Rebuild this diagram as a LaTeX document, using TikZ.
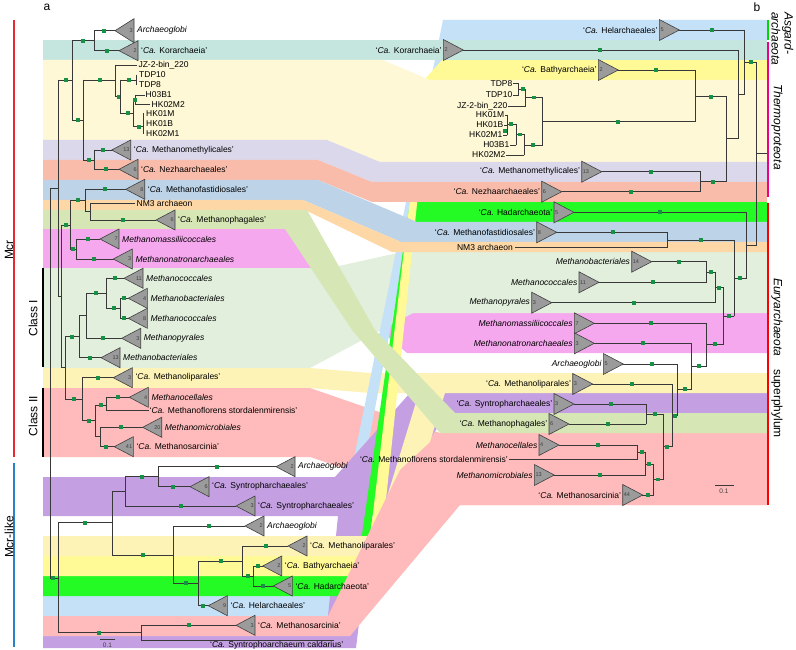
\documentclass[tikz,border=0pt]{standalone}
\usepackage{fontspec}
\setmainfont{Liberation Sans}
\definecolor{cTeal}{RGB}{197,230,222}
\definecolor{cTDP}{RGB}{254,248,214}
\definecolor{cLav}{RGB}{220,216,236}
\definecolor{cSalm}{RGB}{250,188,170}
\definecolor{cBlueG}{RGB}{188,211,232}
\definecolor{cPeach}{RGB}{253,216,166}
\definecolor{cPGreen}{RGB}{214,230,180}
\definecolor{cPink}{RGB}{246,168,238}
\definecolor{cLGreen}{RGB}{226,239,221}
\definecolor{cYel}{RGB}{254,243,182}
\definecolor{cRose}{RGB}{255,187,187}
\definecolor{cPurple}{RGB}{196,160,226}
\definecolor{cBYel}{RGB}{255,250,150}
\definecolor{cGreen}{RGB}{36,250,36}
\definecolor{cLBlue}{RGB}{197,225,248}
\definecolor{cSq}{RGB}{22,145,70}
\definecolor{cTri}{RGB}{155,155,155}
\definecolor{cRedL}{RGB}{232,40,50}
\definecolor{cBlueL}{RGB}{40,130,200}
\newcounter{nn}
\newcommand\CaI{\textit{Ca.}}
\newcommand\Hs[4]{\draw[br] (#1,#3) -- (#2,#3); \fill[cSq] (#4-1.9,#3-1.9) rectangle (#4+1.9,#3+1.9);}
\newcommand\Hl[3]{\draw[br] (#1,#3) -- (#2,#3);}
\newcommand\Vl[3]{\draw[br] (#1,#2) -- (#1,#3);}
\newcommand\TL[5]{\filldraw[tri] (#1,#2) -- (#1+19,#2-#5/2) -- (#1+19,#2+#5/2) -- cycle;
 \stepcounter{nn}\node[num,anchor=east] (n\arabic{nn}) at (#1+18,#2) {#3};
 \stepcounter{nn}\node[lab,anchor=west] (n\arabic{nn}) at (#1+22,#2) {#4};}
\newcommand\TR[5]{\filldraw[tri] (#1,#2-#5/2) -- (#1+20,#2) -- (#1,#2+#5/2) -- cycle;
 \stepcounter{nn}\node[num,anchor=west] (n\arabic{nn}) at (#1+1,#2) {#3};
 \stepcounter{nn}\node[lab,anchor=east] (n\arabic{nn}) at (#1-1.5,#2) {#4};}
\newcommand\LW[3]{\stepcounter{nn}\node[lab,anchor=west] (n\arabic{nn}) at (#1,#2) {#3};}
\newcommand\LE[3]{\stepcounter{nn}\node[lab,anchor=east] (n\arabic{nn}) at (#1,#2) {#3};}
\begin{document}
\begin{tikzpicture}[x=1pt,y=-1pt,
 br/.style={draw=black!78,line width=0.75pt,line cap=rect},
 tri/.style={fill=cTri,draw=black!75,line width=0.6pt,line join=miter},
 num/.style={font=\fontsize{5.5}{6}\selectfont,text=black!75,inner sep=0pt},
 lab/.style={font=\fontsize{8.5}{10}\selectfont,inner sep=0pt},
 big/.style={font=\fontsize{12}{13}\selectfont,inner sep=0pt}]
\useasboundingbox (0,0) rectangle (796,650);
% ---------- lower Mcr ribbons
\fill[cPink] (43,229) -- (290,229) -- (378,313) -- (767,313) -- (767,353) -- (407,353) -- (307,268) -- (43,268) -- cycle;
\fill[cLGreen] (43,268) -- (330,268) -- (402,252) -- (767,252) -- (767,313) -- (413,313) -- (310,368) -- (43,368) -- cycle;
\fill[cYel] (43,368) -- (310,368) -- (370,373) -- (767,373) -- (767,393) -- (370,393) -- (310,388) -- (43,388) -- cycle;
\fill[cRose] (43,388) -- (310,388) -- (440,433) -- (767,433) -- (767,505) -- (455,505) -- (310,457) -- (43,457) -- cycle;
% ---------- Mcr-like ribbons
\fill[cLBlue] (43,596) -- (326,596) -- (443,20) -- (767,20) -- (767,40) -- (446,40) -- (335,616) -- (43,616) -- cycle;
\fill[cPurple] (43,477) -- (335,477) -- (410,393) -- (767,393) -- (767,413) -- (448,413) -- (375,516) -- (43,516) -- cycle;
\fill[cPurple] (43,636) -- (326,636) -- (338,516) -- (372,516) -- (356,648) -- (43,648) -- cycle;
\fill[cGreen] (43,576) -- (356,576) -- (410,202) -- (767,202) -- (767,222) -- (415,222) -- (361,596) -- (43,596) -- cycle;
\fill[cBYel] (43,556) -- (368,556) -- (424,80) -- (442,60) -- (767,60) -- (767,80) -- (430,80) -- (378,576) -- (43,576) -- cycle;
\fill[cYel] (43,536) -- (375,536) -- (425,373) -- (767,373) -- (767,393) -- (445,393) -- (395,556) -- (43,556) -- cycle;
\fill[cRose] (43,616) -- (328,616) -- (400,470) -- (440,433) -- (767,433) -- (767,505) -- (460,505) -- (350,636) -- (43,636) -- cycle;
% ---------- upper Mcr ribbons
\fill[cTeal] (43,40) rectangle (767,60);
\fill[cTDP] (43,60) -- (383,60) -- (430,80) -- (767,80) -- (767,162) -- (380,162) -- (327,140) -- (43,140) -- cycle;
\fill[cLav] (43,140) -- (327,140) -- (380,162) -- (767,162) -- (767,182) -- (372,182) -- (318,160) -- (43,160) -- cycle;
\fill[cSalm] (43,160) -- (318,160) -- (372,182) -- (767,182) -- (767,202) -- (372,202) -- (318,180) -- (43,180) -- cycle;
\fill[cBlueG] (43,180) -- (318,180) -- (417,222) -- (767,222) -- (767,242) -- (401,242) -- (303,200) -- (43,200) -- cycle;
\fill[cPeach] (43,200) -- (303,200) -- (401,242) -- (767,242) -- (767,252) -- (392,252) -- (305,210) -- (43,210) -- cycle;
\fill[cPGreen] (43,210) -- (307,210) -- (375,330) -- (455,413) -- (767,413) -- (767,433) -- (440,433) -- (352,330) -- (285,229) -- (43,229) -- cycle;
% ---------- brackets
\draw[cRedL,line width=2pt] (14,20) -- (14,456.7);
\draw[cBlueL,line width=2pt] (14,463.3) -- (14,646.7);
\draw[black,line width=2pt] (43,268.3) -- (43,366.7);
\draw[black,line width=2pt] (43,388.3) -- (43,456.7);
\draw[green!85!black,line width=2pt] (768.3,20) -- (768.3,40);
\draw[magenta,line width=2pt] (768.3,41.7) -- (768.3,196.7);
\draw[red,line width=2pt] (768.3,203.3) -- (768.3,505);
\node[big,rotate=90] (tMcr) at (9,250) {Mcr};
\node[big,rotate=90] (tMcrl) at (9,537) {Mcr-like};
\node[big,rotate=90] (tC1) at (33,318) {Class I};
\node[big,rotate=90] (tC2) at (33,416) {Class II};
\node[big,rotate=-90,anchor=west,align=left,font=\fontsize{12}{13}\selectfont\itshape] (tAsg) at (782.5,12) {Asgard-\\archaeota};
\node[big,rotate=-90,font=\fontsize{12}{13}\selectfont\itshape] (tTh) at (777,127) {Thermoproteota};
\node[big,rotate=-90] (tEu) at (777,358) {\textit{Euryarchaeota}\hspace{13pt}superphylum};
\node[big] (pa) at (47,7) {a};
\node[big] (pb) at (757,7) {b};
% ---------- left tree (Mcr)
\Hl{50}{58.3}{188.3}
\Vl{50}{188.3}{578}
\Vl{58.3}{80}{296.7}
\Hs{58.3}{72.7}{80}{65.7}
\Vl{72.7}{40.7}{120}
\Hs{72.7}{94.3}{40.7}{83.3}
\Vl{94.3}{30.7}{50.7}
\Hs{94.3}{115}{30.7}{104}
\Hs{94.3}{119}{50.7}{106.7}
\Hs{72.7}{83.3}{120}{78.3}
\Vl{83.3}{80}{160}
\Hs{83.3}{115}{80}{100}
\Vl{115}{65}{96.7}
\Hl{115}{136.7}{65}
\Hs{115}{120.7}{96.7}{119}
\Vl{120.7}{80}{113.3}
\Hs{120.7}{136.7}{80}{129}
\Vl{136.7}{75}{85}
\Hs{120.7}{133.3}{113.3}{127.7}
\Vl{133.3}{99.7}{126.7}
\Hl{133.3}{135}{99.7}
\Vl{135}{95}{104.3}
\Hl{135}{144.3}{95}
\Hl{135}{150}{104.3}
\fill[cSq] (135-1.9,99.7-1.9) rectangle (135+1.9,99.7+1.9);
\Hs{133.3}{143.3}{126.7}{139}
\Vl{143.3}{113.3}{133.3}
\Hs{83.3}{94.3}{160}{89}
\Vl{94.3}{150}{169.3}
\Hs{94.3}{111.7}{150}{103.3}
\Hs{94.3}{119}{169.3}{106}
\Hl{58.3}{61}{296.7}
\Vl{61}{225}{367}
\Hs{61}{70.7}{225}{65.7}
\Vl{70.7}{200}{249.3}
\Hs{70.7}{85}{200}{77.7}
\Vl{85}{189.3}{211.7}
\Hs{85}{125.7}{189.3}{105}
\Hl{85}{90.7}{211.7}
\Vl{90.7}{203.3}{220}
\Hl{90.7}{135}{203.3}
\Hs{90.7}{156}{220}{123.3}
\Hs{70.7}{76.7}{249.3}{73.3}
\Vl{76.7}{239}{259}
\Hs{76.7}{100}{239}{87.7}
\Hs{76.7}{113.3}{259}{94.3}
\Hl{61}{65}{367}
\Vl{65}{336.7}{399}
\Hs{65}{79.3}{336.7}{71.7}
\Vl{79.3}{315.8}{357.7}
\Hl{79.3}{86}{315.8}
\Vl{86}{293.3}{338.3}
\Hs{86}{106.7}{293.3}{96}
\Vl{106.7}{278.3}{308.3}
\Hs{106.7}{124}{278.3}{115}
\Hs{106.7}{120}{308.3}{114}
\Vl{120}{298.3}{318.3}
\Hs{120}{128.3}{298.3}{124}
\Hs{120}{128.3}{318.3}{124}
\Hs{86}{121.7}{338.3}{103.3}
\Hs{79.3}{101}{357.7}{90}
\Hs{65}{82.3}{399}{74}
\Vl{82.3}{377.7}{420.7}
\Hs{82.3}{113.3}{377.7}{97.7}
\Hs{82.3}{95.7}{420.7}{89}
\Vl{95.7}{405}{436.7}
\Hs{95.7}{106.7}{405}{101}
\Vl{106.7}{397.3}{410.7}
\Hs{106.7}{129.3}{397.3}{117.7}
\Hl{106.7}{148.3}{410.7}
\Hl{95.7}{100}{436.7}
\Vl{100}{427.3}{446.7}
\Hs{100}{142.7}{427.3}{120.7}
\Hs{100}{114.3}{446.7}{106}
% left Mcr tips
\TL{115}{30.7}{3}{\textit{Archaeoglobi}}{24}
\TL{119}{50.7}{2}{‘\CaI{} Korarchaeia’}{20}
\LW{138.3}{65}{JZ-2-bin\_220}
\LW{139}{75}{TDP10}
\LW{139}{85}{TDP8}
\LW{145.5}{95}{H03B1}
\LW{151.5}{104.3}{HK02M2}
\LW{146}{113.3}{HK01M}
\LW{146}{123.3}{HK01B}
\LW{146}{133.3}{HK02M1}
\TL{111.7}{150}{13}{‘\CaI{} Methanomethylicales’}{20}
\TL{119}{169.3}{6}{‘\CaI{} Nezhaarchaeales’}{20}
\TL{125.7}{189.3}{8}{‘\CaI{} Methanofastidiosales’}{20}
\LW{136.5}{203.3}{NM3 archaeon}
\TL{156}{220}{6}{‘\CaI{} Methanophagales’}{20}
\TL{100}{239}{7}{\textit{Methanomassiliicoccales}}{20}
\TL{113.3}{259}{3}{\textit{Methanonatronarchaeales}}{20}
\TL{124}{278.3}{11}{\textit{Methanococcales}}{20}
\TL{128.3}{298.3}{4}{\textit{Methanobacteriales}}{20}
\TL{128.3}{318.3}{8}{\textit{Methanococcales}}{20}
\TL{121.7}{338.3}{3}{\textit{Methanopyrales}}{20}
\TL{101}{357.7}{13}{\textit{Methanobacteriales}}{20}
\TL{113.3}{377.7}{3}{‘\CaI{} Methanoliparales’}{20}
\TL{129.3}{397.3}{4}{\textit{Methanocellales}}{20}
\LW{149.5}{410.7}{‘\CaI{} Methanoflorens stordalenmirensis’}
\TL{142.7}{427.3}{20}{\textit{Methanomicrobiales}}{20}
\TL{114.3}{446.7}{41}{‘\CaI{} Methanosarcinia’}{20}
% ---------- left tree (Mcr-like)
\Hs{50}{58.3}{578}{53.3}
\Vl{58.3}{522.7}{632.7}
\Hs{58.3}{112.7}{522.7}{85}
\Vl{112.7}{491.7}{555}
\Hl{112.7}{125.7}{491.7}
\Vl{125.7}{476.7}{506}
\Hs{125.7}{158.3}{476.7}{142.3}
\Vl{158.3}{466.7}{486.7}
\Hs{158.3}{276}{466.7}{216.7}
\Hs{158.3}{190}{486.7}{173.3}
\Hs{125.7}{236}{506}{180.7}
\Hs{112.7}{173.3}{555}{142.7}
\Vl{173.3}{526}{583.3}
\Hs{173.3}{245}{526}{209}
\Hs{173.3}{198.3}{583.3}{185.7}
\Vl{198.3}{561}{605.7}
\Hs{198.3}{242.7}{561}{220.7}
\Vl{242.7}{546}{576}
\Hs{242.7}{288}{546}{266}
\Hs{242.7}{253.3}{576}{248.3}
\Vl{253.3}{566}{586}
\Hs{253.3}{262.7}{566}{257.7}
\Hs{253.3}{273.3}{586}{263.3}
\Hs{198.3}{208.3}{605.7}{203}
\Hs{58.3}{141.7}{632.7}{99.3}
\Vl{141.7}{625.3}{640}
\Hs{141.7}{236}{625.3}{189}
\Hl{141.7}{333.3}{640}
\TL{276}{466.7}{2}{\textit{Archaeoglobi}}{20}
\TL{190}{486.7}{6}{‘\CaI{} Syntropharchaeales’}{20}
\TL{236}{506}{3}{‘\CaI{} Syntropharchaeales’}{20}
\TL{245}{526}{2}{\textit{Archaeoglobi}}{20}
\TL{288}{546}{2}{‘\CaI{} Methanoliparales’}{20}
\TL{262.7}{566}{2}{‘\CaI{} Bathyarchaeia’}{20}
\TL{273.3}{586}{5}{‘\CaI{} Hadarchaeota’}{20}
\TL{208.3}{605.7}{9}{‘\CaI{} Helarchaeales’}{20}
\TL{236}{625.3}{3}{‘\CaI{} Methanosarcinia’}{20}
\LW{210}{645}{‘\CaI{} Syntrophoarchaeum caldarius’}
\draw[br] (100,639.5) -- (115,639.5);
\node[num,font=\fontsize{6.5}{7}\selectfont] (sbl) at (107.5,645.5) {0.1};
% ---------- right tree
\Hs{679.3}{744}{30}{712.3}
\Vl{744}{30}{94.2}
\Hl{738.3}{744}{94.2}
\Vl{738.3}{50}{138.3}
\Hs{463.3}{738.3}{50}{600}
\Hl{726.7}{738.3}{138.3}
\Vl{726.7}{96.7}{181.7}
\Hs{695}{726.7}{96.7}{711}
\Vl{695}{70}{121.7}
\Hs{618.3}{695}{70}{656}
\Hs{542.3}{695}{121.7}{618.3}
% TDP subtree
\Hl{513}{518.3}{83.3}
\Hl{513}{518.3}{95}
\Vl{518.3}{83.3}{95}
\Hs{518.3}{525.7}{89.2}{522.7}
\Vl{525.7}{89.2}{106}
\Hl{508}{525.7}{106}
\Hs{525.7}{542.3}{97.6}{534}
\Vl{542.3}{97.6}{145}
\Hl{505}{507}{115}
\Hl{504}{507}{125}
\Hl{503}{507}{135}
\Vl{507}{115}{135}
\fill[cSq] (505-1.9,131-1.9) rectangle (505+1.9,131+1.9);
\Hs{507}{516}{124}{511}
\Vl{516}{124}{145}
\Hl{510}{516}{145}
\Hs{516}{524}{134.5}{520}
\Vl{524}{134.5}{155}
\Hl{506}{524}{155}
\Hs{524}{542.3}{145}{533}
\LE{512.5}{83.3}{TDP8}
\LE{512.5}{95}{TDP10}
\LE{507.5}{106}{JZ-2-bin\_220}
\LE{504.5}{115}{HK01M}
\LE{503.5}{125}{HK01B}
\LE{502.5}{135}{HK02M1}
\LE{509.5}{145}{H03B1}
\LE{505.5}{155}{HK02M2}
\Hs{700}{726.7}{181.7}{713.3}
\Vl{700}{171.7}{191.7}
\Hs{601.7}{700}{171.7}{650.7}
\Hs{561.7}{700}{191.7}{630.7}
\Hs{744}{756.7}{62.1}{751}
\Vl{756.7}{62.1}{245.3}
\Hl{756.7}{767}{153.3}
\Hl{746.7}{756.7}{245.3}
\Vl{746.7}{212.3}{278.3}
\Hs{574}{746.7}{212.3}{660}
\Hs{734}{746.7}{278.3}{740}
\Vl{734}{240}{316}
\Hs{667.3}{734}{240}{701}
\Vl{667.3}{232.3}{247.3}
\Hs{556.7}{667.3}{232.3}{612.7}
\Hl{515}{667.3}{247.3}
\Hs{723.3}{734}{316}{729.3}
\Vl{723.3}{287.7}{344.3}
\Hs{715}{723.3}{287.7}{719.3}
\Vl{715}{272.3}{302.7}
\Hs{706}{715}{272.3}{711}
\Vl{706}{261.7}{282.3}
\Hs{651.7}{706}{261.7}{679.3}
\Hs{599}{706}{282.3}{652.7}
\Hs{551.7}{715}{302.7}{634}
\Hs{706.7}{723.3}{344.3}{715}
\Vl{706.7}{323.3}{366}
\Hs{594.3}{706.7}{323.3}{650.7}
\Hs{691.7}{706.7}{366}{699}
\Vl{691.7}{343.3}{389.3}
\Hs{594.3}{691.7}{343.3}{643.3}
\Hs{677.7}{691.7}{389.3}{685}
\Vl{677.7}{364}{415.7}
\Hs{623.3}{677.7}{364}{651.7}
\Hs{672.7}{677.7}{415.7}{675}
\Vl{672.7}{384}{446.7}
\Hs{592.7}{672.7}{384}{632.3}
\Hs{663.3}{672.7}{446.7}{667.3}
\Vl{663.3}{414}{479.5}
\Hs{646}{663.3}{414}{655}
\Vl{646}{404}{424}
\Hs{574}{646}{404}{610.7}
\Hs{569}{646}{424}{607.7}
\Hs{653.3}{663.3}{479.5}{657.7}
\Vl{653.3}{464}{495}
\Hs{645.7}{653.3}{464}{649}
\Vl{645.7}{452.3}{475}
\Hs{637.7}{645.7}{452.3}{641.7}
\Vl{637.7}{445}{459}
\Hs{559}{637.7}{445}{598.3}
\Hl{509.5}{637.7}{459}
\Hs{554.3}{645.7}{475}{600}
\Hs{642.7}{653.3}{495}{647.7}
\TR{659.3}{30}{5}{‘\CaI{} Helarchaeales’}{21}
\TR{443.3}{50}{2}{‘\CaI{} Korarchaeia’}{21}
\TR{598.3}{70}{2}{‘\CaI{} Bathyarchaeia’}{21}
\TR{581.7}{171.7}{13}{‘\CaI{} Methanomethylicales’}{21}
\TR{541.7}{191.7}{6}{‘\CaI{} Nezhaarchaeales’}{21}
\TR{554}{212.3}{5}{‘\CaI{} Hadarchaeota’}{21}
\TR{536.7}{232.3}{8}{‘\CaI{} Methanofastidiosales’}{21}
\LE{513}{247.3}{NM3 archaeon}
\TR{631.7}{261.7}{14}{\textit{Methanobacteriales}}{21}
\TR{579}{282.3}{11}{\textit{Methanococcales}}{21}
\TR{531.7}{302.7}{3}{\textit{Methanopyrales}}{21}
\TR{574.3}{323.3}{7}{\textit{Methanomassiliicoccales}}{21}
\TR{574.3}{343.3}{3}{\textit{Methanonatronarchaeales}}{21}
\TR{603.3}{364}{5}{\textit{Archaeoglobi}}{21}
\TR{572.7}{384}{3}{‘\CaI{} Methanoliparales’}{21}
\TR{554}{404}{3}{‘\CaI{} Syntropharchaeales’}{21}
\TR{549}{424}{6}{‘\CaI{} Methanophagales’}{21}
\TR{539}{445}{4}{\textit{Methanocellales}}{21}
\LE{508}{459}{‘\CaI{} Methanoflorens stordalenmirensis’}
\TR{534.3}{475}{13}{\textit{Methanomicrobiales}}{21}
\TR{622.7}{495}{44}{‘\CaI{} Methanosarcinia’}{21}
\draw[br] (715,485) -- (733.3,485);
\node[num,font=\fontsize{6.5}{7}\selectfont] (sbr) at (724,491.5) {0.1};
\end{tikzpicture}
\end{document}
